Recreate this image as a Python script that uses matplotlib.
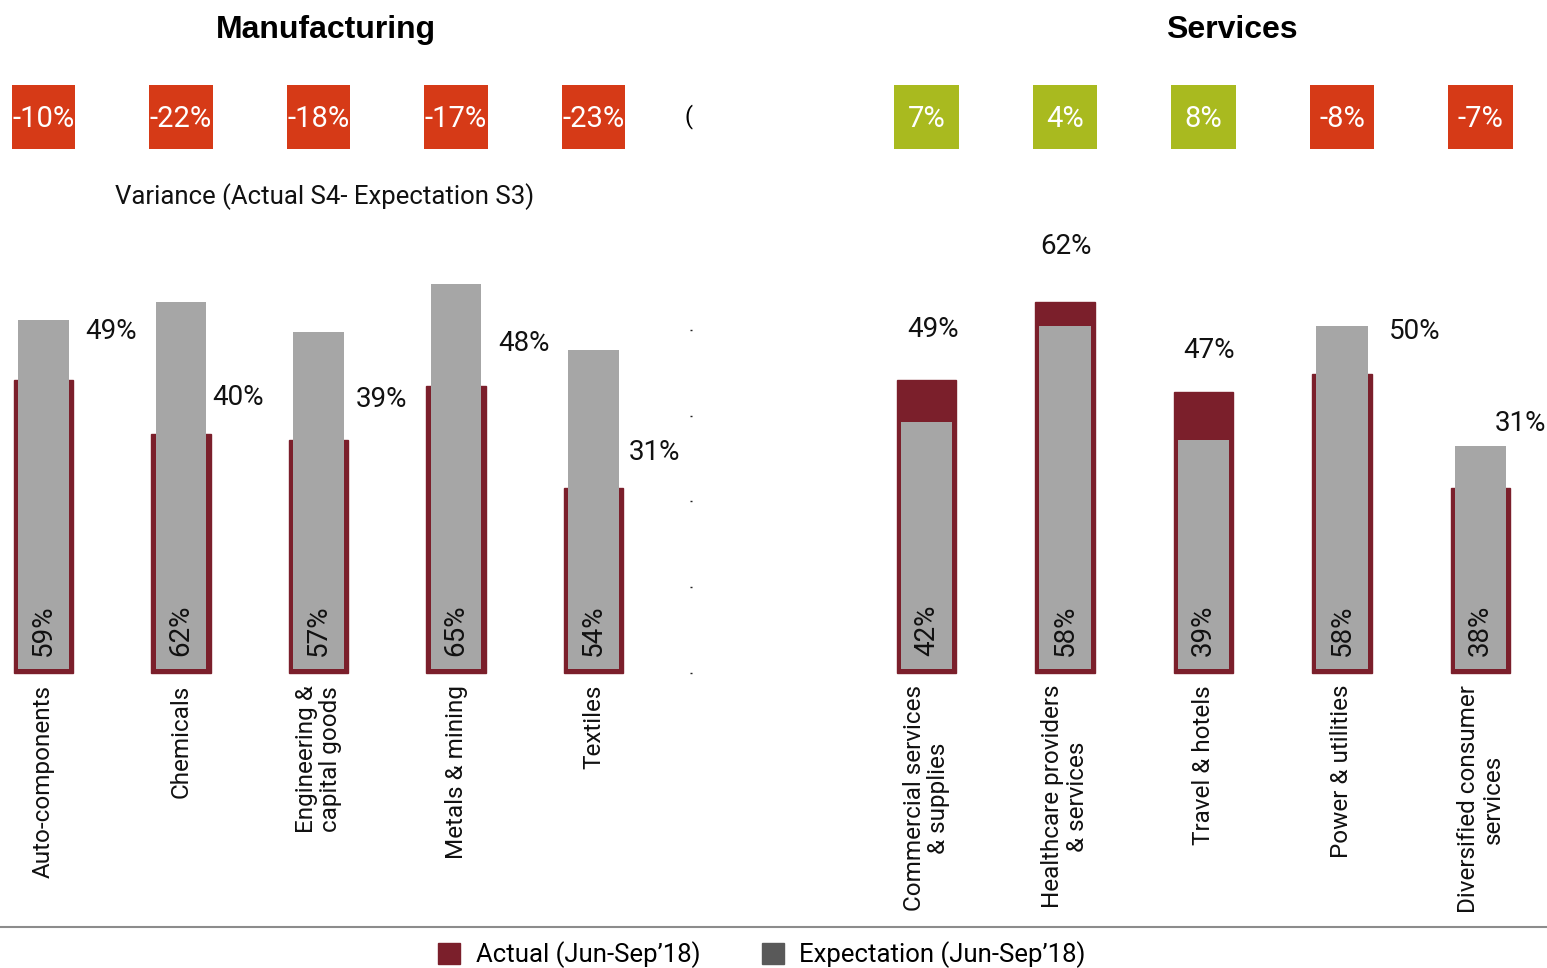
import matplotlib.pyplot as plt
from matplotlib.patches import Patch
from matplotlib.lines import Line2D
import numpy as np

plt.rcParams['font.family'] = ['Roboto', 'DejaVu Sans']

# Manufacturing sectors
mfg_sectors = ['Auto-components', 'Chemicals', 'Engineering &\ncapital goods',
               'Metals & mining', 'Textiles']
mfg_actual = [49, 40, 39, 48, 31]
mfg_expect = [59, 62, 57, 65, 54]

# Services sectors
svc_sectors = ['Commercial services\n& supplies', 'Healthcare providers\n& services',
               'Travel & hotels', 'Power & utilities', 'Diversified consumer\nservices']
svc_actual = [49, 62, 47, 50, 31]
svc_expect = [42, 58, 39, 58, 38]

RED = '#7B1F2B'
GREY = '#A6A6A6'
NEG = '#D63A17'
POS = '#A9BA1F'

W, H = 1547, 968
fig = plt.figure(figsize=(W / 100, H / 100), dpi=100)


def px_axes(x0, x1, ytop, ybot):
    return fig.add_axes([x0 / W, 1 - ybot / H, (x1 - x0) / W, (ybot - ytop) / H])


def draw_panel(ax, names, actual, expect, xlim, label_dx, label_dy, label_ha):
    x = np.arange(len(names))
    ax.bar(x, actual, width=0.43, color=RED, edgecolor=RED, linewidth=1, zorder=2,
           clip_on=False)
    gap = 0.6  # red border visible under the grey bar
    ax.bar(x, np.array(expect) - gap, bottom=gap, width=0.37, color=GREY, zorder=3)
    ax.set_xlim(*xlim)
    ax.set_ylim(0, 75)
    for s in ax.spines.values():
        s.set_visible(False)
    ax.set_xticks([])
    ax.set_yticks([])

    for i, (a, e) in enumerate(zip(actual, expect)):
        # expectation value, rotated inside the bar
        ax.text(i, 2.9, f'{e}%', rotation=90, ha='center', va='bottom',
                fontsize=20, color='#111111', zorder=4)
        # actual value
        ax.text(i + label_dx[i], a + label_dy[i], f'{a}%', ha=label_ha[i],
                va='center', fontsize=20, color='#111111')
        # variance box
        v = a - e
        ax.bar(i, 10.7, bottom=87.6, width=0.465, color=POS if v > 0 else NEG,
               clip_on=False, zorder=2)
        ax.text(i, 92.7, f'{v}%', ha='center', va='center', fontsize=21,
                color='white', clip_on=False, zorder=3)
        # category label
        ax.text(i, -2.0, names[i], rotation=90, ha='center', va='top',
                multialignment='center', fontsize=17.5, color='#111111',
                linespacing=1.1, clip_on=False)


ax1 = px_axes(2.25, 689.75, 224.5, 673)
draw_panel(ax1, mfg_sectors, mfg_actual, mfg_expect, (-0.3, 4.7),
           [0.30, 0.23, 0.27, 0.31, 0.26], [8.1, 6.0, 6.7, 7.1, 5.8], ['left'] * 5)
ax1.yaxis.tick_right()
ax1.set_yticks(np.linspace(0, 57.4, 5))
ax1.set_yticklabels([])
ax1.tick_params(axis='y', length=1.5, width=1, color='#222222', pad=0)

ax2 = px_axes(884.95, 1542.8, 224.5, 673)
draw_panel(ax2, svc_sectors, svc_actual, svc_expect, (-0.3, 4.45),
           [0.05, 0.01, 0.04, 0.34, 0.10], [8.4, 9.3, 6.9, 7.1, 10.7],
           ['center', 'center', 'center', 'left', 'left'])

# titles
fig.text(326 / W, 1 - 30 / H, 'Manufacturing', ha='center', va='center',
         fontsize=23, fontweight='bold', family='Liberation Sans')
fig.text(1232 / W, 1 - 30 / H, 'Services', ha='center', va='center',
         fontsize=23, fontweight='bold', family='Liberation Sans')
fig.text(325 / W, 1 - 197 / H, 'Variance (Actual S4- Expectation S3)',
         ha='center', va='center', fontsize=18.5, color='#111111')
fig.text(685 / W, 1 - 117 / H, '(', ha='left', va='center', fontsize=17)

# separator line and legend
fig.add_artist(Line2D([0, 1], [1 - 927 / H, 1 - 927 / H], transform=fig.transFigure,
                      color='#8C8C8C', linewidth=1.5))
handles = [Patch(color=RED, label='Actual (Jun-Sep\u201918)'),
           Patch(color='#595959', label='Expectation (Jun-Sep\u201918)')]
fig.legend(handles=handles, ncol=2, loc='center', bbox_to_anchor=(762 / W, 1 - 955 / H),
           frameon=False, fontsize=18.5, handlelength=0.85, handleheight=0.85,
           handletextpad=0.6, columnspacing=2.4, borderpad=0)

fig.savefig('out.png', dpi=100)
